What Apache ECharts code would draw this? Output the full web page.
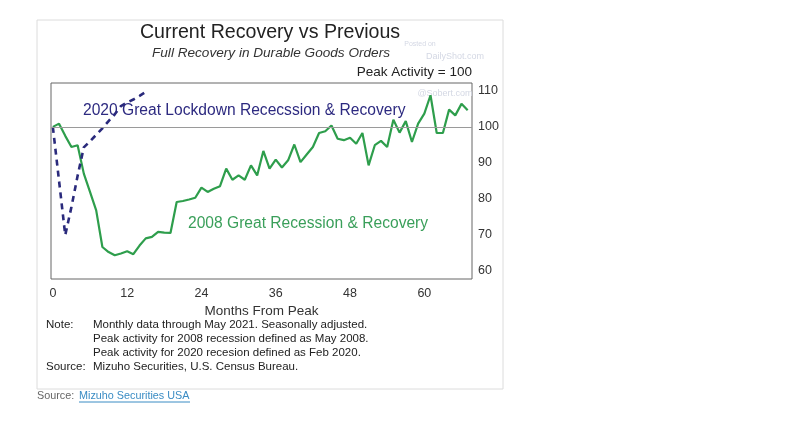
<!DOCTYPE html>
<html>
<head>
<meta charset="utf-8">
<script src="https://cdn.jsdelivr.net/npm/echarts@6/dist/echarts.min.js"></script>
<style>
  html, body { margin: 0; padding: 0; background: #fff; }
  #chart { width: 800px; height: 423px; }
</style>
</head>
<body>
<div id="chart"></div>
<script>
  // months from peak, 2008 recession (peak May 2008 = 100)
  const months2008 = [
    0, 1, 2, 3, 4, 5, 6, 7, 8, 9, 10, 11, 12, 13, 14, 15, 16, 17, 18, 19,
    20, 21, 22, 23, 24, 25, 26, 27, 28, 29, 30, 31, 32, 33, 34, 35, 36, 37, 38, 39,
    40, 41, 42, 43, 44, 45, 46, 47, 48, 49, 50, 51, 52, 53, 54, 55, 56, 57, 58, 59,
    60, 61, 62, 63, 64, 65, 66, 67
  ];
  const values2008 = [
    100, 100.9, 97.5, 94.4, 94.9, 87, 81.9, 76.8, 66.6, 65.2,
    64.3, 64.8, 65.4, 64.6, 67, 69, 69.4, 70.8, 70.6, 70.5,
    79.1, 79.4, 79.8, 80.3, 83.1, 81.9, 82.8, 83.5, 88.4, 85.3,
    86.5, 85.3, 89.3, 86.5, 93.3, 88.4, 90.9, 88.7, 90.7, 95.1,
    90.2, 92.3, 94.4, 98.3, 98.8, 100.4, 96.7, 96.3, 97, 95.3,
    98.3, 89.3, 94.9, 96.1, 94.4, 102, 98.4, 101.6, 95.8, 100.9,
    103.7, 108.8, 98.3, 98.3, 104.8, 103.2, 106.4, 104.6
  ];

  // months from peak, 2020 lockdown (peak Feb 2020 = 100)
  const months2020 = [0, 1, 2, 3, 4, 5, 6, 7, 8, 9, 10, 11, 12, 13, 14, 15];
  const values2020 = [
    100, 85, 69.9, 77.7, 86.4, 94.3, 96, 97.8, 99.6, 101.6,
    103.5, 105.8, 106.8, 107.6, 108.6, 109.7
  ];

  const xTicks = [0, 12, 24, 36, 48, 60];
  const yTicks = [60, 70, 80, 90, 100, 110];
  const peakLevel = 100;

  const noteLines = [
    "Monthly data through May 2021. Seasonally adjusted.",
    "Peak activity for 2008 recession defined as May 2008.",
    "Peak activity for 2020 recesion defined as Feb 2020."
  ];

  const font = "Liberation Sans, Arial, sans-serif";
  const pair = (xs, ys) => xs.map((x, i) => [x, ys[i]]);

  const chart = echarts.init(document.getElementById("chart"));

  const option = {
    backgroundColor: "#fff",
    animation: false,
    textStyle: { fontFamily: font },
    grid: {
      left: 51,
      right: 328,
      top: 83,
      bottom: 144,
      show: true,
      borderColor: "#666",
      borderWidth: 1,
    },
    xAxis: {
      type: "value",
      min: -0.3,
      max: 67.7,
      axisLine: { show: false },
      axisTick: { show: false },
      splitLine: { show: false },
      axisLabel: {
        customValues: xTicks,
        color: "#333",
        fontSize: 12.5,
        margin: 8,
        fontFamily: font,
      },
      name: "Months From Peak",
      nameLocation: "middle",
      nameGap: 25,
      nameTextStyle: { color: "#333", fontSize: 13.5, fontFamily: font },
    },
    yAxis: {
      type: "value",
      position: "right",
      min: 57.7,
      max: 112.2,
      axisLine: { show: false },
      axisTick: { show: false },
      splitLine: { show: false },
      axisLabel: {
        customValues: yTicks,
        color: "#333",
        fontSize: 12.5,
        margin: 6,
        fontFamily: font,
      },
    },
    series: [
      {
        name: "2008",
        type: "line",
        data: pair(months2008, values2008),
        symbol: "none",
        lineStyle: { color: "#2e9e4c", width: 2.2 },
        z: 3,
        markLine: {
          silent: true,
          symbol: "none",
          label: { show: false },
          lineStyle: { color: "#9a9a9a", type: "solid", width: 1 },
          data: [{ yAxis: peakLevel }],
        },
      },
      {
        name: "2020",
        type: "line",
        data: pair(months2020, values2020),
        symbol: "none",
        lineStyle: { color: "#2a2a7c", width: 2.6, type: [6, 5] },
        z: 4,
      },
    ],
    graphic: [
      {
        type: "rect",
        z: -10,
        shape: { x: 37, y: 20, width: 466, height: 369 },
        style: { fill: "#fff", stroke: "#dcdcdc", lineWidth: 1 },
      },
      {
        type: "text", x: 270, y: 33,
        style: { text: "Current Recovery vs Previous", font: "19.6px " + font, fill: "#222", align: "center", verticalAlign: "middle" },
      },
      {
        type: "text", x: 271, y: 53,
        style: { text: "Full Recovery in Durable Goods Orders", font: "italic 13.6px " + font, fill: "#333", align: "center", verticalAlign: "middle" },
      },
      {
        type: "text", x: 472, y: 72,
        style: { text: "Peak Activity = 100", font: "13.5px " + font, fill: "#222", align: "right", verticalAlign: "middle" },
      },
      // faint watermarks
      {
        type: "text", x: 420, y: 44,
        style: { text: "Posted on", font: "7px " + font, fill: "#d4d8e4", align: "center", verticalAlign: "middle" },
      },
      {
        type: "text", x: 455, y: 57,
        style: { text: "DailyShot.com", font: "9px " + font, fill: "#d4d8e4", align: "center", verticalAlign: "middle" },
      },
      {
        type: "text", x: 445, y: 94,
        style: { text: "@Sobert.com", font: "9px " + font, fill: "#d4d8e4", align: "center", verticalAlign: "middle" },
      },
      // series labels
      {
        type: "text", x: 83, y: 111, z: 10,
        style: { text: "2020 Great Lockdown Rececssion & Recovery", font: "15.6px " + font, fill: "#2d2a80", align: "left", verticalAlign: "middle" },
      },
      {
        type: "text", x: 188, y: 224, z: 10,
        style: { text: "2008 Great Recession & Recovery", font: "15.6px " + font, fill: "#3a9f5a", align: "left", verticalAlign: "middle" },
      },
      // notes
      {
        type: "text", x: 46, y: 325,
        style: { text: "Note:", font: "11.5px " + font, fill: "#222", align: "left", verticalAlign: "middle" },
      },
      {
        type: "text", x: 93, y: 318,
        style: { text: noteLines.join("\n"), font: "11.5px " + font, lineHeight: 13.8, fill: "#222", align: "left", verticalAlign: "top" },
      },
      {
        type: "text", x: 46, y: 367,
        style: { text: "Source:", font: "11.5px " + font, fill: "#222", align: "left", verticalAlign: "middle" },
      },
      {
        type: "text", x: 93, y: 367,
        style: { text: "Mizuho Securities, U.S. Census Bureau.", font: "11.5px " + font, fill: "#222", align: "left", verticalAlign: "middle" },
      },
      {
        type: "text", x: 37, y: 396,
        style: { text: "Source:", font: "10.8px " + font, fill: "#666", align: "left", verticalAlign: "middle" },
      },
      {
        type: "text", x: 79, y: 396,
        style: { text: "Mizuho Securities USA", font: "10.8px " + font, fill: "#3a8cc4", align: "left", verticalAlign: "middle" },
      },
      {
        type: "line",
        shape: { x1: 79, y1: 402, x2: 190, y2: 402 },
        style: { stroke: "#3a8cc4", lineWidth: 1 },
      },
    ],
  };

  chart.setOption(option);
</script>
</body>
</html>
